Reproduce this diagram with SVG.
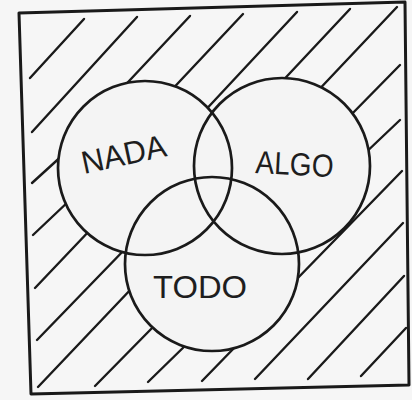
<svg xmlns="http://www.w3.org/2000/svg" width="412" height="400" viewBox="0 0 412 400">
  <style>
    .hatch line { stroke: #1a1a1a; stroke-width: 2.4; stroke-linecap: round; }
    .fill { fill: #f4f4f4; stroke: none; }
    .ring { fill: none; stroke: #1a1a1a; stroke-width: 2.7; }
    .frame { fill: none; stroke: #1a1a1a; stroke-width: 3; stroke-linejoin: round; }
    .label { font-family: "Liberation Sans", "DejaVu Sans", sans-serif; fill: #1e1e1e; text-anchor: middle; }
  </style>
  <rect x="0" y="0" width="412" height="400" fill="#f6f6f6"/>
  <g id="frame">
    <polygon class="frame" points="19,13 405,2 409,385 31,394" fill="#f3f3f3"/>
  </g>
  <g id="hatching" class="hatch">
    <line x1="30" y1="78" x2="84" y2="19"/>
    <line x1="32" y1="132" x2="137" y2="17"/>
    <line x1="115" y1="96" x2="190" y2="16"/>
    <line x1="165" y1="97" x2="243" y2="14"/>
    <line x1="200" y1="116" x2="297" y2="12"/>
    <line x1="275" y1="89" x2="350" y2="9"/>
    <line x1="312" y1="97" x2="397" y2="7"/>
    <line x1="345" y1="121" x2="400" y2="65"/>
    <line x1="360" y1="158" x2="400" y2="120"/>
    <line x1="32" y1="183" x2="65" y2="153"/>
    <line x1="33" y1="235" x2="70" y2="200"/>
    <line x1="35" y1="288" x2="92" y2="228"/>
    <line x1="37" y1="340" x2="128" y2="246"/>
    <line x1="38" y1="387" x2="133" y2="287"/>
    <line x1="95" y1="386" x2="156" y2="324"/>
    <line x1="148" y1="382" x2="190" y2="341"/>
    <line x1="202" y1="381" x2="238" y2="344"/>
    <line x1="255" y1="379" x2="403" y2="223"/>
    <line x1="292" y1="284" x2="402" y2="171"/>
    <line x1="308" y1="379" x2="404" y2="276"/>
    <line x1="361" y1="376" x2="406" y2="328"/>
  </g>
  <g id="fills">
    <circle class="fill" cx="145" cy="168" r="87"/>
    <circle class="fill" cx="282" cy="166" r="88"/>
    <circle class="fill" cx="212" cy="264" r="87"/>
  </g>
  <g id="nada">
    <circle class="ring" cx="145" cy="168" r="87"/>
    <text class="label" x="126" y="165" font-size="32" textLength="86" lengthAdjust="spacingAndGlyphs" transform="rotate(-12 126 165)">NADA</text>
  </g>
  <g id="algo">
    <circle class="ring" cx="282" cy="166" r="88"/>
    <text class="label" x="294" y="175" font-size="32" textLength="78" lengthAdjust="spacingAndGlyphs" transform="rotate(3 294 175)">ALGO</text>
  </g>
  <g id="todo">
    <circle class="ring" cx="212" cy="264" r="87"/>
    <text class="label" x="200" y="298" font-size="31" textLength="94" lengthAdjust="spacingAndGlyphs">TODO</text>
  </g>
</svg>
